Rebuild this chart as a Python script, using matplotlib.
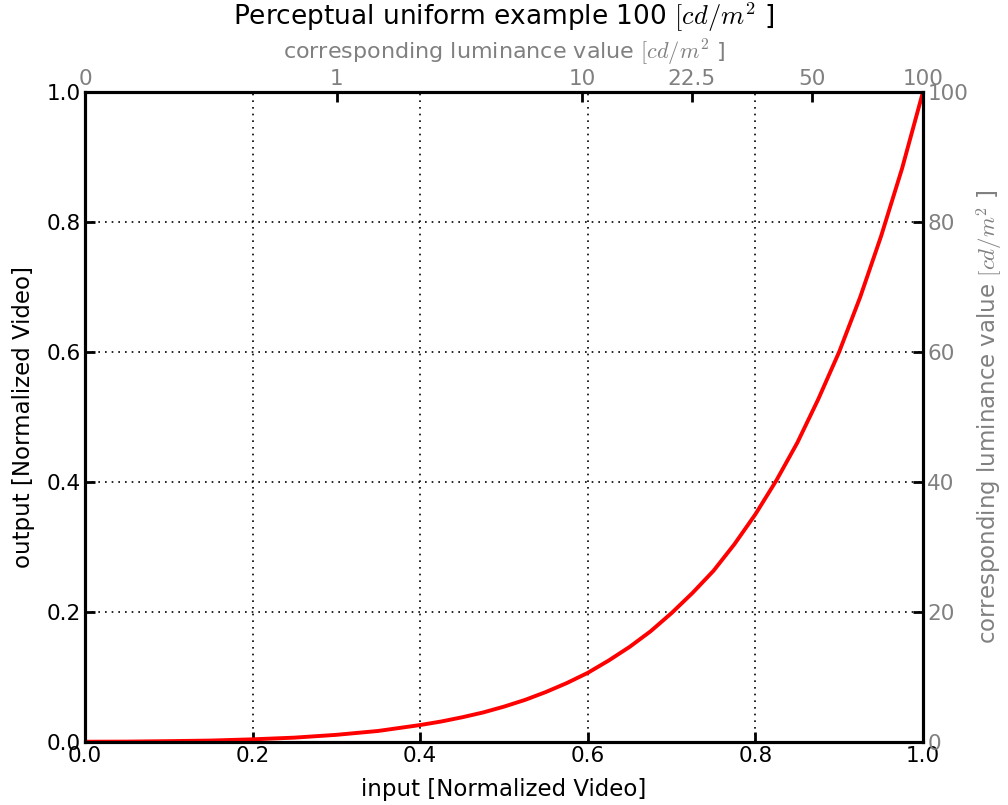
import numpy as np
import matplotlib.pyplot as plt

plt.rcParams['mathtext.fontset'] = 'cm'
plt.rcParams['font.family'] = 'DejaVu Sans'

# curve (input -> output)
x_in = [0.0, 0.05, 0.1, 0.15, 0.2, 0.25, 0.3, 0.35, 0.4, 0.425, 0.45, 0.475,
        0.5, 0.525, 0.55, 0.575, 0.6, 0.625, 0.65, 0.675, 0.7, 0.725, 0.75,
        0.775, 0.8, 0.825, 0.85, 0.875, 0.9, 0.925, 0.95, 0.975, 1.0]
y_out = [0.0, 0.0002, 0.0009, 0.0018, 0.0037, 0.0063, 0.0106, 0.0166, 0.0257,
         0.0311, 0.0376, 0.0450, 0.054, 0.0643, 0.0765, 0.0903, 0.106, 0.125,
         0.146, 0.170, 0.198, 0.229, 0.263, 0.304, 0.35, 0.402, 0.46, 0.527,
         0.60, 0.684, 0.778, 0.882, 1.0]

# top axis: luminance labels and where they sit on the input axis
lum_labels = ['0', '1', '10', '22.5', '50', '100']
lum_pos = [0.0, 0.3007, 0.593, 0.724, 0.8675, 1.0]

# right axis: luminance in cd/m2
right_ticks = [0, 20, 40, 60, 80, 100]

grey = '#808080'
unit = r'$[cd/m^2$ ]'
tick_fs = 15.5
label_fs = 16.5

fig = plt.figure(figsize=(10.08, 8.05), dpi=100)
ax = fig.add_axes([0.0843, 0.0786, 0.8314, 0.8074])

ax.plot(x_in, y_out, color='red', lw=2.8, solid_joinstyle='round')
ax.set_xlim(0, 1)
ax.set_ylim(0, 1)
ax.set_xticks([0.0, 0.2, 0.4, 0.6, 0.8, 1.0])
ax.set_yticks([0.0, 0.2, 0.4, 0.6, 0.8, 1.0])
ax.set_xticklabels(['%.1f' % v for v in ax.get_xticks()])
ax.set_yticklabels(['%.1f' % v for v in ax.get_yticks()])
ax.tick_params(direction='in', length=7, width=2, labelsize=tick_fs, pad=3)
ax.grid(True, color='black', linestyle=(0, (1, 3)), lw=1.2)
ax.set_xlabel('input [Normalized Video]', fontsize=label_fs, labelpad=9)
ax.set_ylabel('output [Normalized Video]', fontsize=label_fs, labelpad=8)

# right axis
ax2 = ax.twinx()
ax2.set_ylim(0, 100)
ax2.set_yticks(right_ticks)
ax2.tick_params(direction='in', length=7, width=2, labelsize=tick_fs,
                labelcolor=grey, pad=3)
ax2.set_ylabel('corresponding luminance value ' + unit, fontsize=label_fs,
               color=grey, labelpad=5)

# top axis
ax3 = ax.twiny()
ax3.set_xlim(0, 1)
ax3.set_xticks(lum_pos)
ax3.set_xticklabels(lum_labels)
ax3.tick_params(direction='in', length=7, width=2, labelsize=tick_fs,
                labelcolor=grey, pad=2)
ax3.set_xlabel('corresponding luminance value ' + unit, fontsize=16,
               color=grey, labelpad=7)

for a in (ax, ax2, ax3):
    for s in a.spines.values():
        s.set_linewidth(2.2)

fig.suptitle('Perceptual uniform example 100 ' + unit, fontsize=19,
             y=1.0, va='top')

fig.savefig('out.png', dpi=100, facecolor='white')
